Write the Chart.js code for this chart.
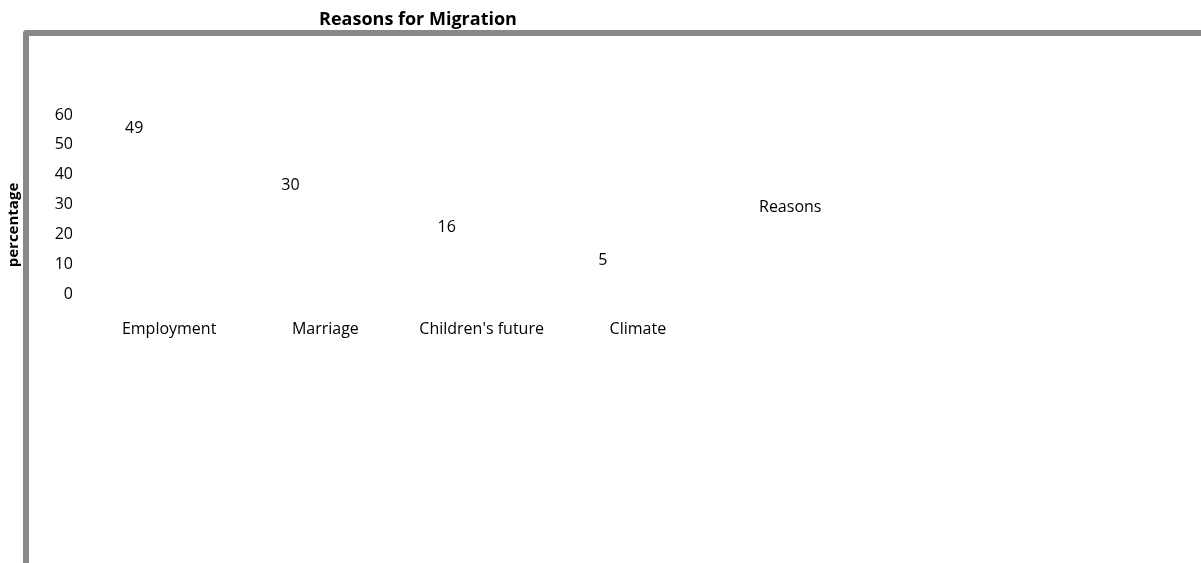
<!DOCTYPE html>
<html>
<head>
<meta charset="utf-8">
<script src="https://cdn.jsdelivr.net/npm/chart.js@4"></script>
<style>
    html, body { margin: 0; padding: 0; background: #fff; overflow: hidden; }
    #wrap { position: relative; width: 1201px; height: 563px; }
    #frame {
        position: absolute; left: 23px; top: 30px; width: 1300px; height: 700px;
        border-top: 6px solid #888; border-left: 6px solid #888;
        border-top-left-radius: 4px;
    }
    canvas { position: absolute; left: 0; top: 0; }
</style>
</head>
<body>
<div id="wrap">
    <div id="frame"></div>
    <canvas id="chart" width="1201" height="563"></canvas>
</div>
<script>
const categories = ['Employment', 'Marriage', "Children's future", 'Climate'];
const reasons = [49, 30, 16, 5];
const yTicks = [0, 10, 20, 30, 40, 50, 60];

const FONT = "'Open Sans', sans-serif";

// labels, title and legend text drawn by hand, excel style
const textPlugin = {
    id: 'textPlugin',
    afterDraw(chart) {
        const ctx = chart.ctx;
        ctx.save();
        ctx.fillStyle = '#000';

        ctx.font = 'bold 18px ' + FONT;
        ctx.textAlign = 'center';
        ctx.textBaseline = 'middle';
        ctx.fillText('Reasons for Migration', 418, 20);

        ctx.save();
        ctx.translate(14, 225);
        ctx.rotate(-Math.PI / 2);
        ctx.font = 'bold 15px ' + FONT;
        ctx.fillText('percentage', 0, 0);
        ctx.restore();

        ctx.font = '16px ' + FONT;
        const meta = chart.getDatasetMeta(0);
        meta.data.forEach((bar, i) => {
            ctx.fillText(String(reasons[i]), bar.x - 35, bar.y - 19);
        });

        ctx.textAlign = 'left';
        ctx.fillText(chart.data.datasets[0].label, 759, 207);
        ctx.restore();
    }
};

new Chart(document.getElementById('chart').getContext('2d'), {
    type: 'bar',
    data: {
        labels: categories,
        datasets: [{
            label: 'Reasons',
            data: reasons,
            backgroundColor: 'rgba(0,0,0,0)',
            borderWidth: 0
        }]
    },
    options: {
        responsive: false,
        animation: false,
        events: [],
        layout: {
            padding: { left: 0, top: 115, right: 485, bottom: 0 }
        },
        scales: {
            x: {
                grid: { display: false },
                border: { display: false },
                ticks: {
                    color: '#000',
                    padding: 18,
                    maxRotation: 0,
                    font: { family: FONT, size: 16 }
                },
                afterFit: (s) => { s.height = 269; }
            },
            y: {
                min: 0,
                max: 60,
                grid: { display: false },
                border: { display: false },
                afterBuildTicks: (s) => { s.ticks = yTicks.map(v => ({ value: v })); },
                ticks: {
                    color: '#000',
                    padding: 10,
                    font: { family: FONT, size: 16 }
                },
                afterFit: (s) => { s.width = 91; }
            }
        },
        plugins: {
            legend: { display: false },
            tooltip: { enabled: false },
            title: { display: false }
        }
    },
    plugins: [textPlugin]
});
</script>
</body>
</html>
